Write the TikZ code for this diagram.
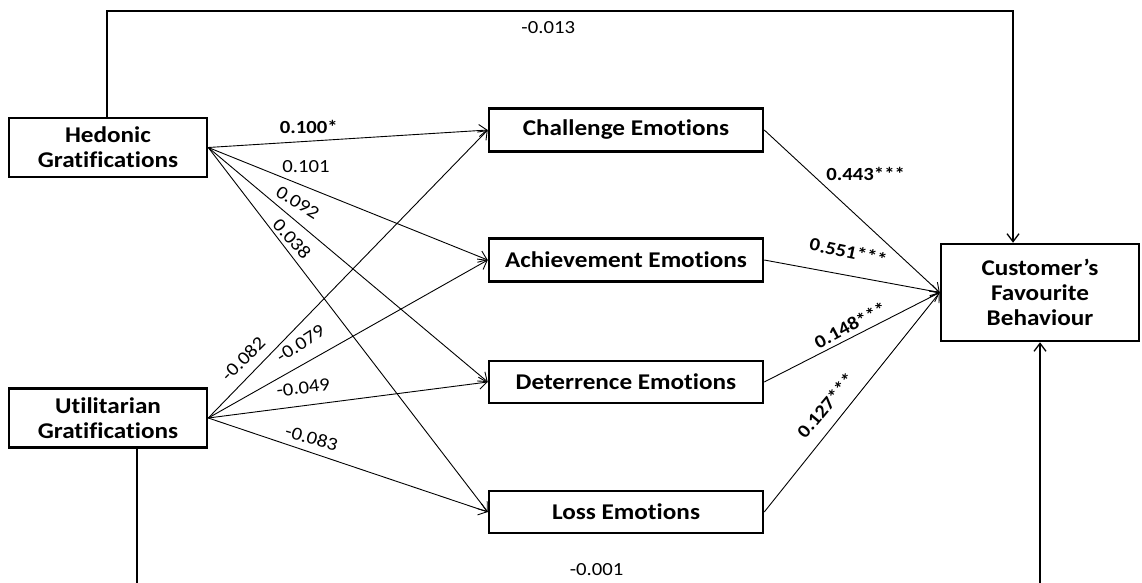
\documentclass[tikz,border=0pt]{standalone}
\usepackage{fontspec}
\setmainfont{Carlito}[FakeStretch=1.12, Ligatures=CommonOff]
\usetikzlibrary{arrows.meta}

\begin{document}
\begin{tikzpicture}[x=1pt, y=-1pt,
    box/.style={draw, line width=2.5pt, align=center, inner sep=0pt, font=\bfseries\fontsize{22.5}{25}\selectfont},
    arr/.style={-{Straight Barb[length=8pt,width=12pt]}, line width=0.9pt},
    lbl/.style={inner sep=0pt, font=\fontsize{18.5}{20}\selectfont},
    blbl/.style={inner sep=0pt, font=\bfseries\fontsize{18.5}{20}\selectfont}
]
\useasboundingbox (0,0) rectangle (1142,583);
\clip (0,0) rectangle (1142,583);

% gratifications
\node[box, minimum width=198pt, minimum height=59pt] (hed) at (108,147.5) {Hedonic\\Gratifications};
\node[box, minimum width=198pt, minimum height=59pt] (util) at (108,418) {Utilitarian\\Gratifications};

% emotions
\node[box, minimum width=274pt, minimum height=43pt] (chal) at (626,130) {Challenge Emotions};
\node[box, minimum width=274pt, minimum height=43pt] (ach) at (626,260) {Achievement Emotions};
\node[box, minimum width=274pt, minimum height=42pt] (det) at (626,382) {Deterrence Emotions};
\node[box, minimum width=274pt, minimum height=42pt] (loss) at (626,512) {Loss Emotions};

% outcome
\node[box, minimum width=198pt, minimum height=97pt] (cust) at (1040,292.5) {Customer’s\\Favourite\\Behaviour};

\draw[arr] (hed.east) -- node[blbl, pos=0.36, yshift=14pt] {0.100*} (chal.west);
\draw[arr] (hed.east) -- node[lbl, pos=0.35, yshift=20pt] {0.101} (ach.west);
\draw[arr] (hed.east) -- node[lbl, pos=0.32, yshift=20pt, rotate=-32] {0.092} (det.west);
\draw[arr] (hed.east) -- node[lbl, pos=0.30, yshift=18pt, rotate=-48] {0.038} (loss.west);

\draw[arr] (util.east) -- node[lbl, pos=0.125, yshift=23pt, rotate=45] {-0.082} (chal.west);
\draw[arr] (util.east) -- node[lbl, pos=0.33, yshift=22pt, rotate=33] {-0.079} (ach.west);
\draw[arr] (util.east) -- node[lbl, pos=0.34, yshift=18pt, rotate=7] {-0.049} (det.west);
\draw[arr] (util.east) -- node[lbl, pos=0.37, yshift=15pt, rotate=-16] {-0.083} (loss.west);

\draw[arr] (chal.east) -- node[blbl, pos=0.27, xshift=54pt] {0.443***} (cust.west);
\draw[arr] (ach.east) -- node[blbl, pos=0.48, yshift=24pt, rotate=-12] {0.551***} (cust.west);
\draw[arr] (det.east) -- node[blbl, pos=0.49, yshift=13pt, rotate=28] {0.148***} (cust.west);
\draw[arr] (loss.east) -- node[blbl, pos=0.35, yshift=30pt, rotate=50] {0.127***} (cust.west);

% direct paths
\coordinate (topL) at (107,11);
\coordinate (topR) at (1013,11);
\draw[arr, line width=1.3pt] (hed.north -| topL) -- (topL) -- node[lbl, pos=0.487, yshift=-17pt] {-0.013} (topR) -- (cust.north -| topR);

\coordinate (botL) at (137,588);
\coordinate (botR) at (1040,588);
\draw[arr, line width=1.3pt] (util.south -| botL) -- (botL) -- node[lbl, pos=0.509, yshift=18pt] {-0.001} (botR) -- (cust.south);
\end{tikzpicture}
\end{document}
